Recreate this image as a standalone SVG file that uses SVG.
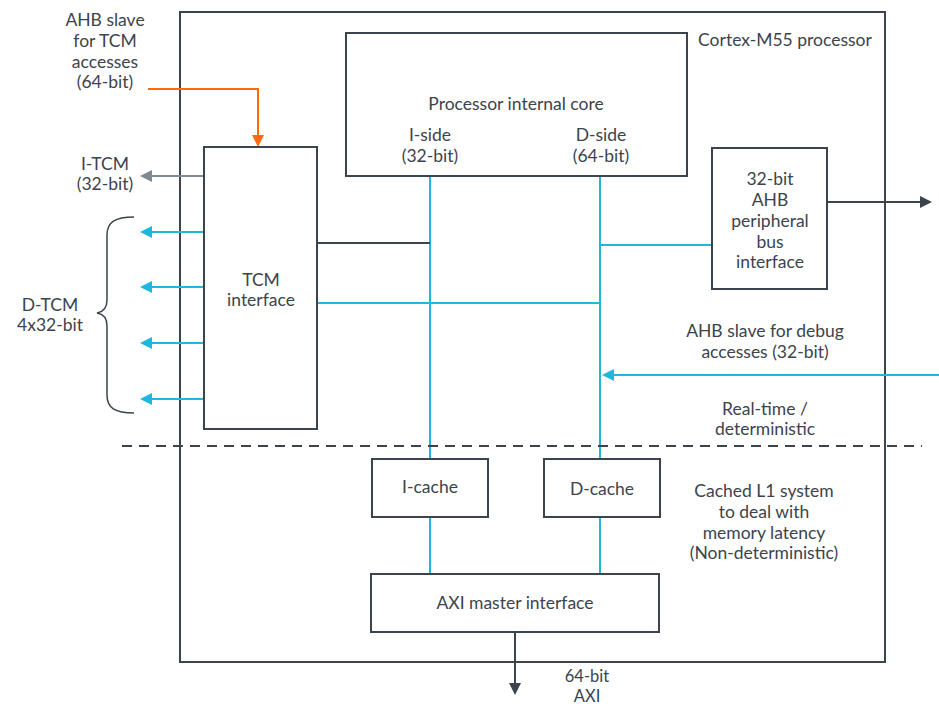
<svg xmlns="http://www.w3.org/2000/svg" width="939" height="707" viewBox="0 0 939 707">
<style>
text{font-family:Lato,"Liberation Sans",sans-serif;font-size:17.5px;fill:#3b444c;text-anchor:middle}
text.sm{font-size:16.5px}
.box{fill:#fff;stroke:#3b444c;stroke-width:2}
.dk{stroke:#3b444c;stroke-width:2;fill:none}
.cy{stroke:#1db8dc;stroke-width:2;fill:none}
.or{stroke:#ff6a0c;stroke-width:2;fill:none}
.gr{stroke:#7f8a90;stroke-width:2;fill:none}
</style>
<defs>
<marker id="aDk" markerWidth="12" markerHeight="12" refX="10" refY="6" orient="auto" markerUnits="userSpaceOnUse"><path d="M0,0 L12,6 L0,12 z" fill="#3b444c"/></marker>
<marker id="aCy" markerWidth="12" markerHeight="12" refX="10" refY="6" orient="auto" markerUnits="userSpaceOnUse"><path d="M0,0 L12,6 L0,12 z" fill="#1db8dc"/></marker>
<marker id="aOr" markerWidth="12" markerHeight="12" refX="10" refY="6" orient="auto" markerUnits="userSpaceOnUse"><path d="M0,0 L12,6 L0,12 z" fill="#ff6a0c"/></marker>
<marker id="aGr" markerWidth="12" markerHeight="12" refX="10" refY="6" orient="auto" markerUnits="userSpaceOnUse"><path d="M0,0 L12,6 L0,12 z" fill="#7f8a90"/></marker>
</defs>
<rect width="939" height="707" fill="#fff"/>
<g id="processor">
<rect class="box" x="180" y="12" width="705" height="650" fill="none"/>
<text x="785" y="46">Cortex-M55 processor</text>
</g>
<g id="connectors">
<path class="cy" d="M430,176 V459 M430,517 V574 M600,176 V459 M600,517 V574"/>
<path class="dk" d="M317,243 H430"/>
<path class="cy" d="M317,303 H600"/>
<path class="cy" d="M600,245 H712"/>
<path class="dk" d="M827,202 H930" marker-end="url(#aDk)"/>
<path class="cy" d="M939,375 H604" marker-end="url(#aCy)"/>
<path class="or" d="M148,89 H258 V145" marker-end="url(#aOr)"/>
<path class="gr" d="M204,176 H142" marker-end="url(#aGr)"/>
<path class="cy" d="M204,232 H142" marker-end="url(#aCy)"/>
<path class="cy" d="M204,287 H142" marker-end="url(#aCy)"/>
<path class="cy" d="M204,343 H142" marker-end="url(#aCy)"/>
<path class="cy" d="M204,399 H142" marker-end="url(#aCy)"/>
<path class="dk" d="M515,632 V693" marker-end="url(#aDk)"/>
<path d="M122,446 H922" stroke="#3b444c" stroke-width="2" stroke-dasharray="10,7" fill="none"/>
<path d="M134,217 C115,217 107,222 107,235 V300 C107,308 103,312 97,313 C103,314 107,318 107,326 V395 C107,408 115,413 134,413" stroke="#3b444c" stroke-width="1.5" fill="none"/>
</g>
<g id="core">
<rect class="box" x="346" y="33" width="341" height="143"/>
<text x="516" y="110">Processor internal core</text>
<text x="430" y="141">I-side</text>
<text x="430" y="162">(32-bit)</text>
<text x="601" y="141">D-side</text>
<text x="601" y="162">(64-bit)</text>
</g>
<g id="tcm">
<rect class="box" x="204" y="147" width="113" height="282"/>
<text x="261" y="286">TCM</text>
<text x="261" y="306">interface</text>
</g>
<g id="ahb-periph">
<rect class="box" x="712" y="148" width="115" height="141"/>
<text x="770" y="185">32-bit</text>
<text x="770" y="206">AHB</text>
<text x="770" y="227">peripheral</text>
<text x="770" y="248">bus</text>
<text x="770" y="268">interface</text>
</g>
<g id="icache">
<rect class="box" x="372" y="459" width="116" height="58"/>
<text x="430" y="493">I-cache</text>
</g>
<g id="dcache">
<rect class="box" x="544" y="459" width="116" height="58"/>
<text x="602" y="495">D-cache</text>
</g>
<g id="axi">
<rect class="box" x="371" y="574" width="288" height="58"/>
<text x="515" y="609">AXI master interface</text>
</g>
<g id="labels">
<text x="105" y="26">AHB slave</text>
<text x="105" y="47">for TCM</text>
<text x="105" y="68">accesses</text>
<text x="105" y="88">(64-bit)</text>
<text x="105" y="170">I-TCM</text>
<text x="105" y="190">(32-bit)</text>
<text x="50" y="311">D-TCM</text>
<text x="50" y="331">4x32-bit</text>
<text x="765" y="337">AHB slave for debug</text>
<text x="765" y="358">accesses (32-bit)</text>
<text x="765" y="415">Real-time /</text>
<text x="765" y="435">deterministic</text>
<text x="764" y="497">Cached L1 system</text>
<text x="764" y="518">to deal with</text>
<text x="764" y="539">memory latency</text>
<text x="764" y="559">(Non-deterministic)</text>
<text class="sm" x="587" y="682">64-bit</text>
<text class="sm" x="587" y="702">AXI</text>
</g>
</svg>
